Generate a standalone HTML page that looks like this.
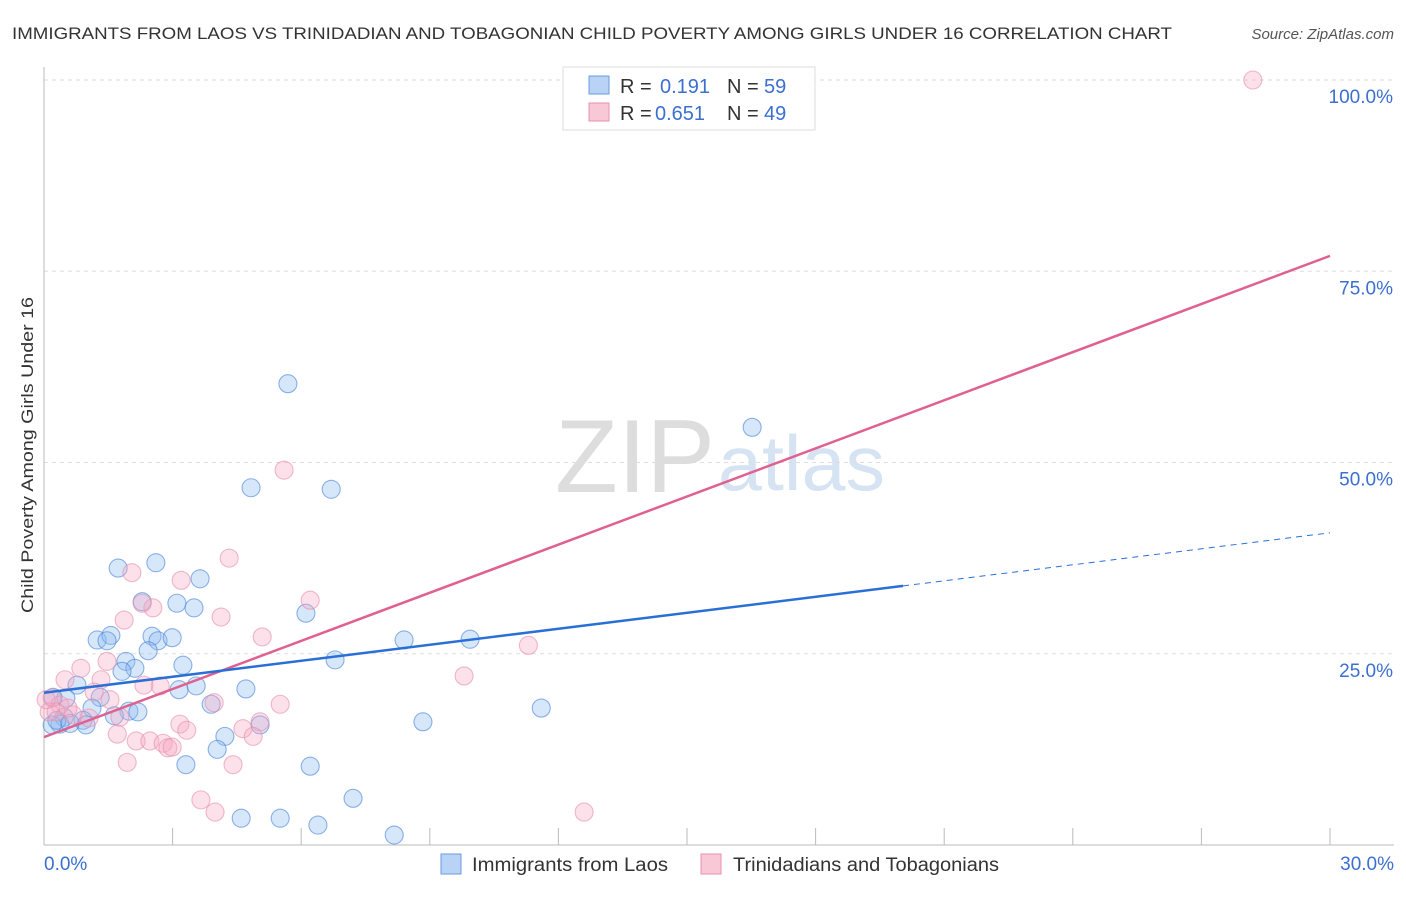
<!DOCTYPE html>
<html><head><meta charset="utf-8"><style>
body{margin:0;background:#fff;font-family:"Liberation Sans",sans-serif;}
svg text{font-family:"Liberation Sans",sans-serif;}
</style></head><body>
<svg id="chart" width="1406" height="892">
<text x="12" y="39" font-size="17" fill="#333" textLength="1160" lengthAdjust="spacingAndGlyphs">IMMIGRANTS FROM LAOS VS TRINIDADIAN AND TOBAGONIAN CHILD POVERTY AMONG GIRLS UNDER 16 CORRELATION CHART</text>
<text x="1394" y="39" font-size="15" fill="#555" font-style="italic" text-anchor="end">Source: ZipAtlas.com</text>
<text x="555" y="492" font-size="104" fill="#ddd" textLength="160" lengthAdjust="spacingAndGlyphs" font-family="Liberation Serif">ZIP</text>
<text x="718" y="490" font-size="78" fill="#d6e3f3" textLength="167" lengthAdjust="spacingAndGlyphs">atlas</text>
<text transform="translate(33,455) rotate(-90)" font-size="17" fill="#333" text-anchor="middle" textLength="316" lengthAdjust="spacingAndGlyphs">Child Poverty Among Girls Under 16</text>
<g id="grid"></g><g id="pts"></g><g id="lines"></g>
<g>
<rect x="563" y="67" width="252" height="63" fill="#fff" stroke="#ddd"/>
<rect x="589" y="76" width="20" height="18" fill="#b8d3f5" stroke="#6a9be0"/>
<text x="620" y="93" font-size="20" fill="#333">R = </text><text x="660" y="93" font-size="20" fill="#3b6fd0">0.191</text>
<text x="727" y="93" font-size="20" fill="#333">N = </text><text x="764" y="93" font-size="20" fill="#3b6fd0">59</text>
<rect x="589" y="103" width="20" height="18" fill="#f9c8d6" stroke="#e890b0"/>
<text x="620" y="120" font-size="20" fill="#333">R = </text><text x="655" y="120" font-size="20" fill="#3b6fd0">0.651</text>
<text x="727" y="120" font-size="20" fill="#333">N = </text><text x="764" y="120" font-size="20" fill="#3b6fd0">49</text>
</g>
<g>
<rect x="441" y="854" width="20" height="20" fill="#b8d3f5" stroke="#6a9be0"/>
<text x="472" y="871" font-size="19" fill="#333" textLength="196" lengthAdjust="spacingAndGlyphs">Immigrants from Laos</text>
<rect x="701" y="854" width="20" height="20" fill="#f9c8d6" stroke="#e890b0"/>
<text x="733" y="871" font-size="19" fill="#333" textLength="266" lengthAdjust="spacingAndGlyphs">Trinidadians and Tobagonians</text>
</g>
</svg>
<script>
const blueX=[5.69,16.52,4.83,6.70,1.73,2.61,3.64,2.29,3.10,3.50,6.11,1.24,1.56,1.47,2.52,2.66,2.99,2.43,8.40,9.94,1.91,2.12,1.82,3.24,6.79,3.15,3.55,4.71,0.77,1.31,0.51,0.21,3.90,11.6,1.12,1.98,2.19,1.64,0.47,0.91,5.04,8.84,0.37,0.19,0.98,4.22,4.04,3.31,6.21,7.21,4.60,5.51,6.39,8.17,0.30,0.61];
const blueY=[60.3,54.6,46.7,46.5,36.2,36.9,34.8,31.8,31.6,31.0,30.3,26.8,27.4,26.7,27.3,26.7,27.1,25.4,26.8,26.9,24.0,23.1,22.7,23.5,24.2,20.3,20.8,20.4,20.9,19.3,19.2,19.3,18.4,17.9,17.9,17.5,17.4,16.9,16.7,16.3,15.7,16.1,15.8,15.7,15.7,14.2,12.5,10.5,10.3,6.1,3.5,3.5,2.6,1.3,16.3,15.9];
const pinkX=[28.2,5.60,4.32,2.05,3.20,2.54,2.29,6.21,4.13,1.87,5.09,11.3,9.80,0.86,1.47,0.49,1.33,2.71,2.33,1.54,1.17,3.97,5.51,0.19,0.37,0.12,0.68,1.05,1.77,5.04,3.17,3.33,4.64,4.88,1.71,2.15,2.47,2.78,2.89,2.99,1.94,4.41,3.66,3.99,12.6,0.28,0.05,0.56];
const pinkY=[100,49.0,37.5,35.6,34.6,31.0,31.6,32.0,29.8,29.4,27.2,26.1,22.1,23.1,24.0,21.6,21.6,20.8,20.9,19.0,20.0,18.6,18.4,19.2,18.3,17.4,17.0,16.6,16.7,16.1,15.8,15.0,15.2,14.2,14.5,13.6,13.6,13.3,12.7,12.8,10.8,10.5,5.9,4.3,4.3,17.4,19.0,17.9];
const blueTrend=[19.9,0.697]; const blueSolidEnd=20.04;
const pinkTrend=[14.1,2.097];
const yTicks=[25,50,75,100];
const xTicks=[0,3,6,9,12,15,18,21,24,27,30];
const NS='http://www.w3.org/2000/svg';
const sx=v=>44+v/30*1286, sy=v=>845-v*7.65;
function mk(t,a,p){const e=document.createElementNS(NS,t);for(const k in a)e.setAttribute(k,a[k]);p.appendChild(e);return e;}
const grid=document.getElementById('grid');
yTicks.forEach(t=>{
 const l=mk('line',{x1:44,x2:1394,y1:sy(t),y2:sy(t),stroke:'#ddd','stroke-dasharray':'4,4'},grid);
 
 
 const tx=mk('text',{x:1393,y:sy(t)+23,'font-size':19,fill:'#3b6fd0','text-anchor':'end'},grid);tx.textContent=t.toFixed(1)+'%';
 
 
});
mk('line',{x1:44,x2:44,y1:67,y2:845,stroke:'#bbb'},grid);
mk('line',{x1:44,x2:1394,y1:845,y2:845,stroke:'#bbb'},grid);
xTicks.forEach(t=>{const l=mk('line',{x1:sx(t),x2:sx(t),y1:828,y2:845,stroke:'#bbb'},grid);
 
 });
[[0,'start'],[30,'end']].forEach(([t,a])=>{const tx=mk('text',{x:t?1394:44,y:870,'font-size':19,fill:'#3b6fd0','text-anchor':a},grid);tx.textContent=t.toFixed(1)+'%';
 
 });
const pts=document.getElementById('pts');
blueX.forEach((x,i)=>{const c=mk('circle',{cx:sx(x),cy:sy(blueY[i]),r:9,fill:'rgba(140,185,240,0.35)',stroke:'rgba(70,130,215,0.6)','stroke-width':1.1},pts);
 
 });
pinkX.forEach((x,i)=>{const c=mk('circle',{cx:sx(x),cy:sy(pinkY[i]),r:9,fill:'rgba(245,170,195,0.35)',stroke:'rgba(230,140,170,0.6)','stroke-width':1.1},pts);
 
 });
const lines=document.getElementById('lines');
const f=(tr,x)=>tr[0]+tr[1]*x;
let l=mk('line',{x1:sx(0),y1:sy(f(pinkTrend,0)),x2:sx(30),y2:sy(f(pinkTrend,30)),stroke:'#e0608f','stroke-width':2.5},lines);


l=mk('line',{x1:sx(0),y1:sy(f(blueTrend,0)),x2:sx(blueSolidEnd),y2:sy(f(blueTrend,blueSolidEnd)),stroke:'#2a6fd6','stroke-width':2.5},lines);


l=mk('line',{x1:sx(blueSolidEnd),y1:sy(f(blueTrend,blueSolidEnd)),x2:sx(30),y2:sy(f(blueTrend,30)),stroke:'#2a6fd6','stroke-width':1,'stroke-dasharray':'6,5'},lines);


</script>
</body></html>
